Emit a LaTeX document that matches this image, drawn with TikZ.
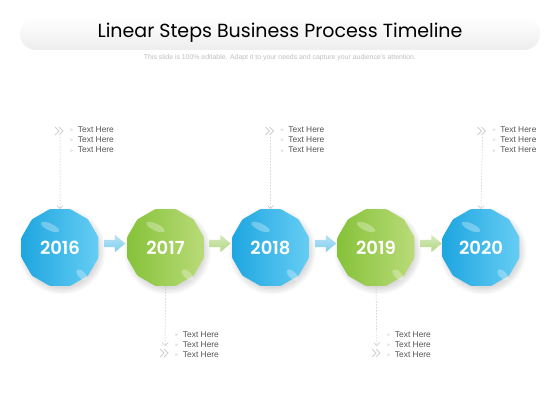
\documentclass[tikz,border=0pt]{standalone}
\usepackage{fontspec}
\setmainfont{Liberation Sans}
\newfontfamily\yearfont{Poppins}[UprightFont={* SemiBold}]
\newfontfamily\titlefont{Poppins}
\usetikzlibrary{shapes.geometric,shapes.arrows,arrows.meta,positioning}
\definecolor{stepblue}{HTML}{1EA6E0}
\definecolor{stepbluelt}{HTML}{66CDF4}
\definecolor{stepgreen}{HTML}{86C23A}
\definecolor{stepgreenlt}{HTML}{B9DB78}
\definecolor{arrblue}{HTML}{7FCDEE}
\definecolor{arrgreen}{HTML}{B3D884}
\definecolor{linegray}{HTML}{C4C4C4}
\definecolor{txtgray}{HTML}{555555}
\definecolor{bulgray}{HTML}{B5B5B5}
\newcommand{\bul}{{\color{bulgray}\fontsize{5}{5}\selectfont\raisebox{0.8pt}{»}}\hspace{5pt}}
\newcommand{\chevs}[2]{\draw[chev] (#1-5,#2-4) -- (#1-1,#2) -- (#1-5,#2+4) (#1-1,#2-4) -- (#1+3,#2) -- (#1-1,#2+4)}
\newcommand{\texthere}{\bul Text Here\\\bul Text Here\\\bul Text Here}

\tikzset{
  yearbox/.style={regular polygon, regular polygon sides=12, minimum size=79.5pt, inner sep=0,
    rounded corners=1pt, text=white, font=\yearfont\fontsize{18}{18}\selectfont},
  guide/.style={linegray, line width=0.5pt, dash pattern=on 1.5pt off 1.5pt, -{Straight Barb[length=3pt,width=6pt]}},
  chev/.style={linegray!80, line width=1pt},
  txtbox/.style={font=\fontsize{8.4}{10.3}\selectfont, text=txtgray, align=left, inner sep=0, anchor=west},
  steparrow/.style={single arrow, inner sep=3.5pt, single arrow head extend=5pt, single arrow tip angle=80,
    minimum height=21pt, draw=none}
}

\begin{document}
\begin{tikzpicture}[x=1pt,y=-1pt]
  \useasboundingbox[fill=white] (0,0) rectangle (560,420);

  % title bar
  \shade[top color=white, bottom color=gray!14, rounded corners=16pt] (20,17) rectangle (540,50);
  \node (title) at (280,33) {\titlefont\fontsize{19}{20}\selectfont Linear Steps Business Process Timeline};
  \node[text=gray!50, font=\fontsize{6.9}{8}\selectfont] (subtitle) at (280,57.5)
    {This slide is 100\% editable. Adapt it to your needs and capture your audience’s attention.};

  % years
  \foreach \yr/\x/\col in {2016/60/blue, 2017/165.5/green, 2018/270.5/blue, 2019/376/green, 2020/481/blue}{
    \foreach \k in {0,...,5}
      \fill[black, opacity=.025] (\x+2,251) circle (37+1.3*\k);
    \node[yearbox, left color=step\col, right color=step\col lt] (s\yr) at (\x,247.5) {\yr};
    \fill[white, opacity=.3, rotate around={-25:(\x-10,227)}] (\x-10,227) ellipse (10 and 3.5);
    \fill[white, opacity=.3, rotate around={-45:(\x+22,275)}] (\x+22,275) ellipse (7 and 3.5);
  }

  % arrows
  \foreach \x/\col in {112.5/blue, 218/green, 323.5/blue, 429/green}{
    \node[steparrow, top color=arr\col!55, bottom color=arr\col] (a\x) at (\x,243.5) {};
  }

  % top notes
  \foreach \yr/\x in {2016/60, 2018/270.5, 2020/482.5}{
    \coordinate (p\yr) at (\x,137);
    \chevs{\x}{131};
    \draw[guide] (p\yr) -- (s\yr.north);
    \node[txtbox] (n\yr) at (\x+10,139.7) {\texthere};
  }

  % bottom notes
  \foreach \yr/\x in {2017/165, 2019/377}{
    \coordinate (p\yr) at (\x,346);
    \chevs{\x}{353};
    \draw[guide] (s\yr.south) -- (p\yr);
    \node[txtbox] (n\yr) at (\x+10,344.5) {\texthere};
  }
\end{tikzpicture}
\end{document}
